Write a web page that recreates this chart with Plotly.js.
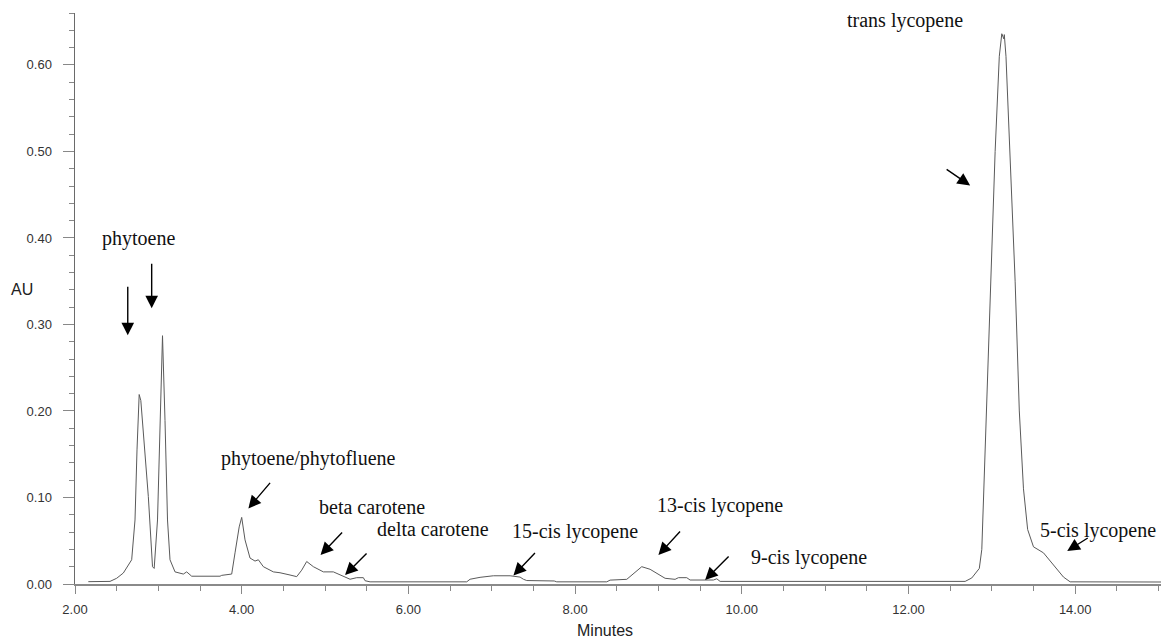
<!DOCTYPE html>
<html>
<head>
<meta charset="utf-8">
<script src="https://cdn.plot.ly/plotly-3.0.1.min.js"></script>
<style>
  html, body { margin: 0; padding: 0; background: #ffffff; }
  #chart { width: 1161px; height: 639px; }
</style>
</head>
<body>
<div id="chart"></div>
<script>
// Retention time (minutes) and absorbance (AU)
const time = [2.16, 2.42, 2.50, 2.58, 2.68, 2.72, 2.744, 2.77, 2.79, 2.82, 2.88, 2.93, 2.95, 2.99, 3.02, 3.05, 3.08, 3.11, 3.14, 3.20, 3.30, 3.34, 3.40, 3.74, 3.76, 3.88, 3.92, 3.97, 4.00, 4.04, 4.10, 4.16, 4.20, 4.26, 4.38, 4.46, 4.58, 4.66, 4.72, 4.78, 4.86, 4.98, 5.10, 5.22, 5.30, 5.38, 5.46, 5.48, 5.54, 6.70, 6.74, 6.86, 7.02, 7.22, 7.34, 7.38, 7.42, 7.75, 7.78, 8.38, 8.42, 8.62, 8.70, 8.80, 8.90, 8.98, 9.08, 9.20, 9.24, 9.34, 9.38, 9.66, 9.70, 9.74, 12.60, 12.68, 12.76, 12.85, 12.88, 12.93, 12.99, 13.04, 13.09, 13.12, 13.145, 13.15, 13.17, 13.22, 13.28, 13.33, 13.38, 13.43, 13.50, 13.62, 13.74, 13.86, 13.94, 15.03];
const au = [0.0027, 0.003, 0.0066, 0.0127, 0.028, 0.074, 0.155, 0.219, 0.212, 0.174, 0.101, 0.020, 0.018, 0.074, 0.189, 0.287, 0.189, 0.074, 0.028, 0.014, 0.0115, 0.014, 0.009, 0.009, 0.010, 0.0115, 0.036, 0.066, 0.077, 0.051, 0.030, 0.0265, 0.028, 0.020, 0.014, 0.013, 0.0104, 0.0085, 0.016, 0.026, 0.020, 0.014, 0.014, 0.0085, 0.0055, 0.0073, 0.0073, 0.0038, 0.0025, 0.0025, 0.0055, 0.0077, 0.0095, 0.0095, 0.0080, 0.0055, 0.004, 0.0035, 0.0025, 0.0025, 0.0045, 0.0054, 0.0115, 0.020, 0.017, 0.0123, 0.0066, 0.0054, 0.0073, 0.0073, 0.0046, 0.0046, 0.006, 0.003, 0.0023, 0.003, 0.007, 0.018, 0.04, 0.19, 0.35, 0.50, 0.61, 0.636, 0.630, 0.635, 0.61, 0.50, 0.35, 0.20, 0.11, 0.063, 0.043, 0.036, 0.022, 0.008, 0.0025, 0.0023];

// Peak labels (text, position in minutes / AU)
const labelText = ["phytoene", "phytoene/phytofluene", "beta carotene", "delta carotene", "15-cis lycopene", "13-cis lycopene", "9-cis lycopene", "trans lycopene", "5-cis lycopene"];
const labelX = [2.756, 4.80, 5.56, 6.29, 8.00, 9.74, 10.81, 11.96, 14.28];
const labelY = [0.3995, 0.1455, 0.0889, 0.0635, 0.0612, 0.0912, 0.0312, 0.651, 0.0624];

// Arrow tips (minutes / AU) and tail offsets (px)
const arrowX = [2.633, 2.920, 4.080, 4.946, 5.240, 7.260, 9.000, 9.560, 12.74, 13.905];
const arrowY = [0.2875, 0.3187, 0.0874, 0.0335, 0.0104, 0.0098, 0.0335, 0.0046, 0.4607, 0.0381];
const arrowDX = [0, 0, 23, 23, 23, 23, 23, 25, -25, 22];
const arrowDY = [-50, -46, -27, -24, -23, -24, -25, -25, -17, -14];

const yTickVals = [0.00, 0.10, 0.20, 0.30, 0.40, 0.50, 0.60];
const xTickVals = [2, 4, 6, 8, 10, 12, 14];

const trace = {
  x: time, y: au, type: 'scatter', mode: 'lines',
  line: { color: '#5a5a5a', width: 1 },
  hoverinfo: 'skip'
};

const annotations = [];
labelText.forEach((t, i) => {
  annotations.push({
    x: labelX[i], y: labelY[i], xref: 'x', yref: 'y',
    text: t, showarrow: false, xanchor: 'center', yanchor: 'middle',
    font: { family: 'Liberation Serif, Times New Roman, serif', size: 20, color: '#111' }
  });
});
arrowX.forEach((x, i) => {
  annotations.push({
    x: x, y: arrowY[i], xref: 'x', yref: 'y',
    ax: arrowDX[i], ay: arrowDY[i], text: '', showarrow: true,
    arrowhead: 2, arrowsize: 1.8, arrowwidth: 1.4, arrowcolor: '#000'
  });
});
annotations.push({
  x: -0.049, y: 0.515, xref: 'paper', yref: 'paper', text: 'AU', showarrow: false,
  xanchor: 'center', yanchor: 'middle',
  font: { family: 'Liberation Sans, Arial, sans-serif', size: 16, color: '#222' }
});
annotations.push({
  x: 0.488, y: -0.081, xref: 'paper', yref: 'paper', text: 'Minutes', showarrow: false,
  xanchor: 'center', yanchor: 'middle',
  font: { family: 'Liberation Sans, Arial, sans-serif', size: 16, color: '#222' }
});

const layout = {
  width: 1161, height: 639,
  margin: { l: 75, r: 0, t: 13, b: 55 },
  paper_bgcolor: '#ffffff', plot_bgcolor: '#ffffff',
  showlegend: false,
  xaxis: {
    range: [2, 15.03], showgrid: false, zeroline: false,
    showline: true, linecolor: '#8a8a8a', linewidth: 2,
    tickmode: 'array', tickvals: xTickVals, tickformat: '.2f',
    ticks: 'outside', ticklen: 8, tickwidth: 1, tickcolor: '#888',
    ticklabelstandoff: 4,
    minor: { dtick: 0.5, tick0: 2, ticks: 'outside', ticklen: 5, tickwidth: 1, tickcolor: '#888', showgrid: false },
    tickfont: { family: 'Liberation Sans, Arial, sans-serif', size: 13, color: '#333' }
  },
  yaxis: {
    range: [0, 0.66], showgrid: false, zeroline: false,
    showline: true, linecolor: '#6a6a6a', linewidth: 1.5,
    tickmode: 'array', tickvals: yTickVals, tickformat: '.2f',
    ticks: 'outside', ticklen: 11, tickwidth: 1, tickcolor: '#888',
    ticklabelstandoff: 8,
    minor: { dtick: 0.02, tick0: 0, ticks: 'outside', ticklen: 5, tickwidth: 1, tickcolor: '#888', showgrid: false },
    tickfont: { family: 'Liberation Sans, Arial, sans-serif', size: 13, color: '#333' }
  },
  annotations: annotations
};

Plotly.newPlot('chart', [trace], layout, { displayModeBar: false, staticPlot: true });
</script>
</body>
</html>
